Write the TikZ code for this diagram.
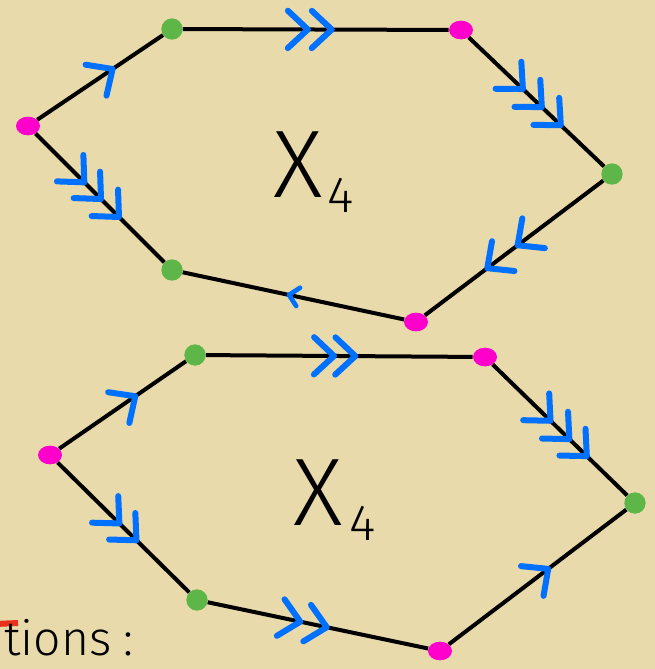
\documentclass[tikz,border=0pt]{standalone}
\usepackage{fontspec}
\IfFontExistsTF{Fira Sans Light}
  {\newfontfamily\hand{Fira Sans Light}}
  {\IfFontExistsTF{Lato Light}
     {\newfontfamily\hand{Lato Light}}
     {\newfontfamily\hand{Fira Sans}}}
\usetikzlibrary{decorations.markings,shapes.geometric}
\definecolor{paper}{RGB}{233,218,172}
\definecolor{dotgreen}{RGB}{94,182,72}
\definecolor{dotpink}{RGB}{255,0,204}
\definecolor{arrowblue}{RGB}{0,112,255}
\definecolor{markred}{RGB}{232,50,30}
\newcommand\mychev{\draw[arrowblue,line width=4.5pt,line cap=round,line join=round] (-15pt,14pt) -- (0,0) -- (-15pt,-14pt);}
\newcommand\mysmallchev{\draw[arrowblue,line width=3.5pt,line cap=round,line join=round] (-7pt,7pt) -- (0,0) -- (-7pt,-7pt);}
\tikzset{
  edge/.style={draw=black,line width=3pt},
  chev/.style={postaction={decorate,decoration={markings,mark=at position #1 with {\mychev}}}},
  smallchev/.style={postaction={decorate,decoration={markings,mark=at position #1 with {\mysmallchev}}}},
  gdot/.style={circle,fill=dotgreen,inner sep=0pt,minimum size=16pt},
  pdot/.style={ellipse,fill=dotpink,inner sep=0pt,minimum width=18pt,minimum height=14pt},
  bigX/.style={font=\hand\fontsize{72}{72}\selectfont,inner sep=0pt,anchor=base west},
  subfour/.style={font=\hand\fontsize{38}{38}\selectfont,inner sep=0pt,anchor=base west},
  note/.style={font=\hand\fontsize{36}{36}\selectfont,inner sep=0pt,anchor=base west},
}
\begin{document}
\begin{tikzpicture}[x=0.75pt,y=-0.75pt]
\fill[paper] (0,0) rectangle (655,669);
\useasboundingbox (0,0) rectangle (655,669);
% top hexagon vertices
\node[pdot] (A) at (28,126) {};
\node[gdot] (B) at (172,29) {};
\node[pdot] (C) at (461,30) {};
\node[gdot] (D) at (612,174) {};
\node[pdot] (E) at (416,322) {};
\node[gdot] (F) at (172,270) {};
% bottom hexagon vertices
\node[pdot] (A2) at (50,455) {};
\node[gdot] (B2) at (195,355) {};
\node[pdot] (C2) at (485,357) {};
\node[gdot] (D2) at (635,503) {};
\node[pdot] (E2) at (440,651) {};
\node[gdot] (F2) at (197,600) {};
% top edges
\draw[edge,chev=0.6] (A) -- (B);
\draw[edge,chev=0.47,chev=0.56] (B) -- (C);
\draw[edge,chev=0.40,chev=0.54,chev=0.68] (C) -- (D);
\draw[edge,chev=0.48,chev=0.65] (D) -- (E);
\draw[edge,smallchev=0.52] (E) -- (F);
\draw[edge,chev=0.38,chev=0.51,chev=0.65] (A) -- (F);
% bottom edges
\draw[edge,chev=0.6] (A2) -- (B2);
\draw[edge,chev=0.48,chev=0.56] (B2) -- (C2);
\draw[edge,chev=0.43,chev=0.57,chev=0.70] (C2) -- (D2);
\draw[edge,chev=0.56] (E2) -- (D2);
\draw[edge,chev=0.47,chev=0.60] (A2) -- (F2);
\draw[edge,chev=0.42,chev=0.54] (F2) -- (E2);
% labels
\node[bigX] (X1) at (273,197) {X};
\node[subfour] (S1) at (327,212) {4};
\node[bigX] (X2) at (293,525) {X};
\node[subfour] (S2) at (349,540) {4};
% cropped note at bottom left
\draw[markred,line width=4.5pt] (-5,624) -- (18,623);
\node[note] (T) at (4,655) {tions\hspace{9pt}:};
\end{tikzpicture}
\end{document}
